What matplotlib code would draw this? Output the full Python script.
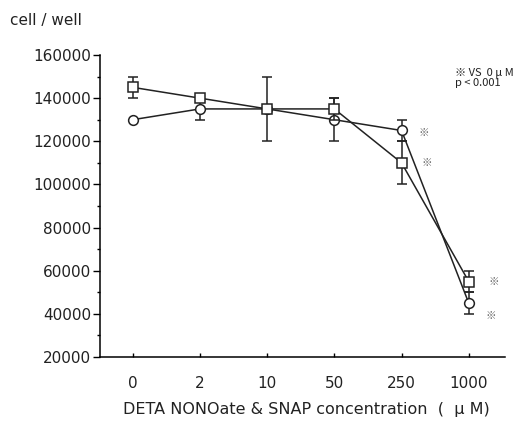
import matplotlib
matplotlib.use("Agg")
import matplotlib.pyplot as plt
from matplotlib.ticker import MultipleLocator

plt.rcParams['font.family'] = ['DejaVu Sans', 'Noto Sans CJK JP']

# concentrations (uM) shown as equally spaced categories
conc = ["0", "2", "10", "50", "250", "1000"]

# square series (mean, sd)
sq_mean = [145000, 140000, 135000, 135000, 110000, 55000]
sq_err = [5000, 0, 15000, 5000, 10000, 5000]

# circle series (mean, sd)
ci_mean = [130000, 135000, 135000, 130000, 125000, 45000]
ci_err = [0, 5000, 0, 10000, 5000, 5000]

# points marked significant vs 0 uM
sq_sig = [4, 5]
ci_sig = [4, 5]

xs = list(range(len(conc)))

fig = plt.figure(figsize=(5.25, 4.23), dpi=100)
ax = fig.add_axes([0.19, 0.156, 0.772, 0.714])

ax.errorbar(xs, ci_mean, yerr=ci_err, color="#222222", lw=1.1,
            marker="o", ms=7, mfc="white", mec="#222222", mew=1.1,
            capsize=3.5, elinewidth=1.1, capthick=1.1, zorder=3)
ax.errorbar(xs, sq_mean, yerr=sq_err, color="#222222", lw=1.1,
            marker="s", ms=7, mfc="white", mec="#222222", mew=1.1,
            capsize=3.5, elinewidth=1.1, capthick=1.1, zorder=4)

for i in sq_sig:
    ax.annotate("※", xy=(i, sq_mean[i]), xytext=(18, 0),
                textcoords="offset points", ha="center", va="center",
                fontsize=7.5, color="#666666",
                family=['Noto Sans CJK JP', 'DejaVu Sans'])
for i in ci_sig:
    ax.annotate("※", xy=(i, ci_mean[i]), xytext=(16, -2 if i == 4 else -9),
                textcoords="offset points", ha="center", va="center",
                fontsize=7.5, color="#666666",
                family=['Noto Sans CJK JP', 'DejaVu Sans'])

ax.set_xlim(-0.49, 5.54)
ax.set_ylim(20000, 160000)
ax.set_xticks(xs)
ax.set_xticklabels(conc)
ax.yaxis.set_major_locator(MultipleLocator(20000))
ax.yaxis.set_minor_locator(MultipleLocator(10000))

for s in ["top", "right"]:
    ax.spines[s].set_visible(False)
ax.spines["left"].set_linewidth(1.1)
ax.spines["bottom"].set_linewidth(1.1)

ax.tick_params(axis="y", which="major", direction="out", length=5,
               width=1, pad=1, labelsize=11, labelcolor="#222222")
ax.tick_params(axis="y", which="minor", direction="out", length=2.5, width=1)
ax.tick_params(axis="x", which="major", direction="in", length=3,
               width=1, pad=14, labelsize=11, labelcolor="#222222")

ax.set_xlabel("DETA NONOate & SNAP concentration  (  μ M)", fontsize=11.5,
              labelpad=9, color="#222222")
ax.xaxis.set_label_coords(0.51, -0.15)
fig.text(0.019, 0.952, "cell / well", fontsize=11, ha="left", va="center",
         color="#222222")
fig.text(0.866, 0.84, "※ VS  0 μ M\np < 0.001", fontsize=8,
         ha="left", va="top", linespacing=1.0, color="#222222",
         family=['Noto Sans CJK JP', 'DejaVu Sans'])

fig.savefig("out.png", dpi=100)
